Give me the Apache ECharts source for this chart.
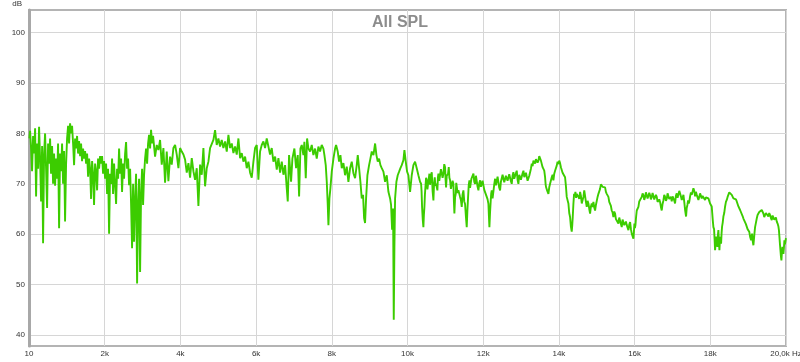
<!DOCTYPE html>
<html>
<head>
<meta charset="utf-8">
<script src="https://cdn.jsdelivr.net/npm/echarts@6/dist/echarts.min.js"></script>
<style>
html,body{margin:0;padding:0;background:#fff;}
#chart{width:800px;height:362px;}
</style>
</head>
<body>
<div id="chart"></div>
<script>
// ---- data: [frequency Hz, SPL dB] ----
const band1 = [[10,79],[29,80.5],[55,77],[81,72.5],[108,79.5],[134,76],[161,81],[187,67.5],[213,78],[240,73],
[266,81.3],[293,75],[319,66.5],[346,77.5],[372,58.2],[399,76],[425,80],[451,73],[478,65.2],[504,78],
[531,74],[557,79],[583,72],[610,77.5],[636,70],[663,76],[689,69.6],[716,75],[742,71],[768,78],
[795,61.2],[821,76],[848,72.5],[874,78],[900,70],[927,76.5],[953,62.5],[980,74],[1006,79],[1033,81.5],
[1059,78],[1085,82],[1112,80],[1138,81.5],[1165,78],[1191,73.7],[1218,79],[1244,77],[1270,79.5],[1297,76],
[1323,78.5],[1350,75.5],[1376,78],[1402,74.5],[1429,77],[1455,75],[1482,76.5],[1508,74],[1535,76],[1561,71.4],
[1587,75],[1614,73],[1640,67],[1667,74.5],[1693,72],[1719,65.8],[1746,74],[1772,72.5],[1799,68.7],[1825,75],
[1852,73],[1878,75.5],[1904,74],[1931,75.5],[1957,72],[1984,74.5],[2010,71],[2037,74],[2063,68],[2089,73],
[2116,60.1],[2142,72],[2169,70],[2195,75],[2221,68],[2248,74],[2274,70],[2301,66],[2327,73],[2354,71],
[2380,77],[2406,72],[2433,75],[2459,68.4],[2486,74],[2512,71],[2539,76],[2565,78.3],[2591,73],[2618,75],
[2644,69.7],[2671,73],[2697,66],[2723,57.2],[2750,70],[2776,58.5],[2803,67],[2829,72],[2856,50.2],[2882,66],
[2908,71],[2935,52.5],[2961,68],[2988,73],[3014,65.8],[3040,71.7],[3067,75],[3093,77],[3120,74],[3146,78],
[3172,79.7],[3199,77],[3225,80.7],[3252,78],[3278,79.5]];
const band2 = [[3331,75.4],[3375,77.7],[3419,76.7],[3463,78.7],[3507,73.8],[3551,77.1],[3595,70.2],[3639,76.4],[3683,70.5],[3727,75.4],
[3771,73.8],[3815,77.1],[3860,77.7],[3904,75.8],[3948,73.1],[3992,77.1],[4036,76.4],[4080,75.8],[4124,74.8],[4168,72.2],
[4212,74.1],[4256,71.2],[4300,75.1],[4344,72.5],[4388,70.8],[4432,73.1],[4476,65.6],[4520,73.8],[4564,71.8],[4608,77.1],
[4652,69.5],[4696,73.1],[4740,74.4],[4784,77.1],[4828,77.4],[4872,78.7],[4916,80.65],[4960,77.7],[5004,79.0],[5048,77.4],
[5092,78.7],[5136,77.1],[5181,78.4],[5225,76.4],[5269,79.7],[5313,77.1],[5357,78.0],[5401,76.1],[5445,77.4],[5489,75.8],
[5533,79.0],[5577,75.1],[5621,76.1],[5665,74.4],[5709,75.4],[5753,73.1],[5797,74.4],[5841,72.2],[5885,71.2],[5929,74.4],
[5973,77.1],[6017,77.7],[6061,70.8],[6105,76.4],[6149,77.7],[6193,78.4],[6237,77.1],[6281,79.0],[6325,77.4],[6369,75.8],
[6413,77.1],[6457,74.4],[6502,75.4],[6546,72.8],[6590,75.1],[6634,72.2],[6678,74.4],[6722,71.8]];
const band3 = [[6766,73.7],[6810,69.1],[6836,66.5],[6871,75.7],[6924,70.4],[6959,75.0],[7012,77.0],[7056,73.1],[7100,75.7],[7136,67.5],
[7171,77.0],[7206,77.7],[7250,75.7],[7276,78.35],[7312,71.1],[7347,79.0],[7382,77.0],[7426,76.4],[7470,77.7],[7514,75.7],
[7558,77.0],[7602,75.0],[7646,77.4],[7690,76.4],[7734,77.7],[7778,77.0],[7805,75.7],[7840,73.7],[7867,70.4],[7893,65.8],
[7911,61.8],[7937,67.1],[7963,69.1],[7999,72.4],[8043,75.0],[8087,77.0],[8113,77.7],[8157,76.4],[8192,74.4],[8228,75.7],
[8263,73.1],[8307,74.1],[8351,71.7],[8395,73.4],[8439,70.4],[8483,73.1],[8527,74.4],[8571,72.1],[8615,71.1],[8659,73.7],
[8686,75.7],[8721,73.1],[8756,70.4],[8791,67.1],[8826,67.8],[8853,63.2],[8879,62.2],[8906,67.1],[8941,71.7],[8985,73.7],
[9020,75.0],[9056,76.4],[9100,75.7],[9144,78.0],[9179,75.7],[9214,74.4],[9249,75.0],[9285,73.7],[9320,73.1],[9364,72.4],
[9408,70.4],[9452,71.7],[9496,68.4],[9540,67.1],[9566,65.8],[9593,60.9],[9619,65.1],[9637,43.0],[9654,57.2],[9672,67.1],
[9707,70.4],[9742,71.7],[9778,72.4],[9813,73.1],[9848,73.7],[9892,74.7],[9919,76.7],[9954,74.4],[9989,72.4],[10024,71.7],
[10068,68.4],[10112,71.7],[10156,73.7],[10200,74.4],[10244,73.1],[10288,71.7],[10332,70.4]];
const band4 = [[10359,70.0],[10372,68.5],[10385,65.4],[10402,63.0],[10420,61.4],[10433,63.8],[10447,65.4],[10460,67.8],[10473,69.3],[10491,71.2],
[10509,70.7],[10526,68.9],[10544,68.7],[10561,71.0],[10579,72.0],[10596,69.8],[10614,70.0],[10627,71.9],[10641,72.3],[10663,68.6],
[10685,66.7],[10702,70.1],[10720,71.3],[10737,69.6],[10755,70.0],[10772,70.2],[10790,68.7],[10803,71.2],[10817,72.0],[10839,70.6],
[10861,70.7],[10883,72.9],[10905,72.6],[10927,71.2],[10949,72.0],[10971,73.9],[10993,73.3],[11006,70.8],[11019,69.3],[11037,71.6],
[11055,71.3],[11072,72.0],[11090,73.3],[11107,71.2],[11125,70.7],[11147,69.0],[11169,68.7],[11191,70.6],[11213,70.0],[11226,66.5],
[11239,64.1],[11257,67.3],[11275,68.0],[11288,70.2],[11301,70.0],[11323,68.2],[11345,68.7],[11367,68.6],[11389,67.4],[11411,66.8],
[11433,65.4],[11455,67.9],[11477,68.7],[11499,66.5],[11521,66.0],[11543,63.5],[11565,61.4],[11583,64.8],[11601,67.4],[11618,69.8],
[11636,70.7],[11653,69.2],[11671,69.3],[11688,71.0],[11706,71.3],[11724,71.0],[11742,72.0],[11764,70.4],[11786,70.0],[11808,71.6],
[11830,71.3],[11852,69.4],[11874,68.7],[11896,70.1],[11918,70.7],[11940,69.4],[11962,69.3],[11984,70.6],[12006,70.3],[12028,68.8],
[12050,68.7],[12072,68.5],[12094,67.4],[12116,66.9],[12138,66.0],[12151,63.6],[12164,61.4],[12181,64.3],[12199,66.7],[12212,68.1],
[12226,68.7],[12248,67.1],[12270,67.4],[12292,69.9],[12314,71.0],[12336,69.7],[12358,70.0],[12380,71.4],[12402,71.3],[12424,69.2],
[12446,68.7],[12468,70.4],[12490,70.7],[12512,71.8],[12534,72.0],[12556,70.3],[12578,70.0],[12600,71.6],[12622,71.7],[12644,70.6],
[12666,70.7],[12688,71.9],[12710,72.0],[12732,70.5],[12754,70.0],[12776,71.6],[12798,72.3],[12820,71.0],[12842,70.7],[12864,72.1],
[12886,72.6],[12908,70.8],[12930,70.0],[12952,71.8],[12975,72.0],[12997,70.8],[13019,70.7],[13041,72.1],[13063,72.6],[13085,71.3],
[13107,71.0],[13129,72.2],[13151,72.0],[13173,70.6],[13195,70.3],[13217,71.6],[13239,71.3],[13261,73.0],[13283,74.0],[13305,73.5],
[13327,74.6],[13349,74.8],[13371,74.0],[13393,74.9],[13415,75.0],[13437,74.2],[13459,74.6],[13481,75.5],[13503,75.6],[13525,74.6],
[13547,74.3],[13569,73.3],[13591,73.3],[13613,72.6],[13635,71.3],[13649,69.9],[13662,69.3],[13675,69.4],[13688,68.7],[13706,68.6],
[13723,68.0],[13745,69.3]];
const band5 = [[13767,70.0],[13789,70.2],[13811,71.3],[13833,71.8],[13855,70.7],[13877,72.0],[13899,72.6],[13921,72.8],[13943,73.6],[13965,74.4],
[13987,73.9],[14009,74.6],[14031,74.1],[14053,73.3],[14075,73.3],[14097,72.2],[14119,72.3],[14141,71.9],[14163,71.3],[14185,69.6],
[14207,67.4],[14229,67.6],[14251,66.1],[14273,64.2],[14295,63.4],[14317,61.5],[14339,60.5],[14352,61.7],[14366,63.4],[14383,66.0],
[14401,68.0],[14418,67.5],[14436,68.4],[14454,67.2],[14472,68.0],[14494,68.2],[14516,67.4],[14538,67.0],[14560,68.4],[14582,67.6],
[14604,66.1],[14626,66.3],[14648,67.4],[14670,68.7],[14692,68.4],[14714,66.4],[14736,65.4],[14758,66.6],[14780,66.1],[14802,65.0],
[14824,64.1],[14846,65.5],[14868,66.1],[14890,65.4],[14912,66.4],[14934,65.3],[14956,64.7],[14978,65.8],[15000,66.1],[15022,67.4],
[15044,68.0],[15066,68.2],[15088,69.0],[15110,69.9],[15132,70.0],[15154,69.4],[15176,69.7],[15198,69.2],[15220,69.3],[15242,68.4],
[15264,68.0],[15286,67.9],[15308,67.4],[15330,66.4],[15352,66.1],[15374,65.6],[15396,64.7],[15418,64.3],[15440,63.4],[15462,64.5],
[15484,64.1],[15506,63.0],[15528,62.8],[15550,63.1],[15572,62.1],[15594,63.3],[15616,63.4],[15638,62.0],[15660,61.4],[15682,62.9],
[15705,62.8],[15727,61.8],[15749,62.1],[15771,62.5],[15793,61.8],[15815,61.7],[15837,60.8],[15859,61.9],[15881,62.4],[15903,61.0],
[15925,60.1],[15947,60.4],[15969,59.1],[15982,60.5],[15995,62.1],[16008,61.2],[16022,61.8],[16039,63.4],[16057,64.7],[16079,64.6],
[16101,65.4],[16123,66.5],[16145,66.7],[16167,66.8],[16189,67.4],[16211,68.1],[16233,67.7],[16255,66.8],[16277,67.4],[16299,68.3],
[16321,68.0],[16343,67.1],[16365,67.0],[16387,68.2],[16409,67.7],[16431,66.9],[16453,67.4],[16475,68.2],[16497,68.0],[16519,66.9],
[16541,66.7],[16563,67.8],[16585,67.4],[16607,66.4],[16629,66.1],[16651,66.9],[16673,66.4],[16695,65.4],[16717,64.7],[16739,66.0],
[16761,66.7],[16783,67.8],[16805,67.4],[16827,66.6],[16849,67.0],[16871,68.1],[16893,68.0],[16915,67.0],[16938,66.7],[16960,67.4]];
const band6 = [[16981,66.5],[17003,67.5],[17025,67.8],[17047,66.7],[17069,66.1],[17091,67.6],[17114,68.1],[17136,67.2],[17158,67.1],[17180,68.6],
[17202,68.5],[17224,67.5],[17246,66.8],[17268,67.2],[17290,67.8],[17312,66.4],[17334,64.8],[17347,64.6],[17360,63.5],[17377,65.2],
[17395,65.8],[17413,66.7],[17431,66.1],[17448,66.6],[17466,67.5],[17488,68.3],[17510,67.8],[17532,68.0],[17554,69.1],[17576,68.6],
[17598,67.5],[17620,68.4],[17642,67.8],[17664,67.6],[17686,66.8],[17708,67.4],[17730,68.1],[17752,67.9],[17774,67.1],[17796,67.6],
[17818,67.8],[17840,67.7],[17862,66.8],[17884,67.3],[17906,67.5],[17928,67.6],[17950,67.1],[17972,66.9],[17994,66.1],[18016,66.0],
[18038,65.5],[18051,64.2],[18065,62.8],[18082,61.4],[18100,61.0],[18113,59.0],[18126,56.8],[18140,58.2],[18153,59.5],[18170,58.6],
[18188,57.5],[18201,59.8],[18214,60.8],[18228,58.4],[18241,56.8],[18250,58.2],[18258,59.5],[18272,58.9],[18285,58.1],[18298,60.2],
[18311,61.5],[18328,62.3],[18346,63.5],[18368,64.2],[18391,65.5],[18413,66.4],[18435,66.8],[18457,67.4],[18479,67.5],[18501,68.3],
[18523,68.1],[18545,68.3],[18567,67.8],[18589,67.7],[18611,67.1],[18633,67.4],[18655,66.8],[18677,66.9],[18699,66.5],[18721,66.2],
[18743,65.5],[18765,65.4],[18787,64.8],[18809,64.8],[18831,64.5],[18853,63.6],[18875,63.1],[18897,63.3],[18919,62.8],[18941,62.0],
[18963,61.8],[18985,61.0],[19007,60.8],[19029,60.5],[19051,59.5],[19065,59.8],[19078,58.8],[19091,59.6],[19104,60.1],[19121,58.6],
[19139,57.8],[19152,58.9],[19166,60.1],[19183,61.4],[19201,62.1],[19214,62.3],[19227,63.1],[19249,63.8],[19271,63.5],[19293,64.4],
[19315,64.1],[19337,64.3],[19359,64.8],[19381,64.9],[19403,64.1],[19425,63.4],[19447,63.5],[19469,64.2],[19491,64.5],[19513,64.0],
[19535,63.5],[19557,64.2],[19580,63.8],[19602,63.2],[19624,62.8],[19646,63.7],[19668,63.5],[19690,62.9],[19712,63.1],[19734,63.3],
[19756,62.5],[19778,62.1],[19800,61.5],[19813,60.8],[19826,59.5],[19840,58.0],[19853,56.8],[19866,55.6],[19879,54.8],[19892,56.4],
[19905,57.5],[19918,57.2],[19932,56.1],[19945,57.3],[19958,58.8],[19971,58.0],[19984,58.5],[19998,59.2]];

const xTickValues = [0,2000,4000,6000,8000,10000,12000,14000,16000,18000,20000];
const xTickLabels = ['10','2k','4k','6k','8k','10k','12k','14k','16k','18k','20,0k Hz'];
const yTickValues = [40,50,60,70,80,90,100];
const titleText = 'All SPL';
const yUnit = 'dB';

const splData = band1.concat(band2, band3, band4, band5, band6);

const chart = echarts.init(document.getElementById('chart'), null, {renderer:'canvas'});
const font = 'Liberation Sans, Arial, sans-serif';
chart.setOption({
  animation: false,
  backgroundColor: '#ffffff',
  title: {
    text: titleText, left: 'center', top: 10,
    textStyle: {fontFamily: font, fontSize: 16, fontWeight: 'bold', color: '#8c8c8c'}
  },
  grid: {left: 29, right: 14, top: 10, bottom: 16, show: true, borderColor: '#b4b4b4', borderWidth: 2,
         backgroundColor: 'transparent', containLabel: false, outerBoundsMode: 'none'},
  xAxis: {
    type: 'value', min: 0, max: 20000, interval: 2000,
    axisLine: {show: false}, axisTick: {show: false},
    splitLine: {show: true, lineStyle: {color: '#d6d6d6', width: 1}},
    axisLabel: {
      show: true, margin: 4, fontFamily: font, fontSize: 8, color: '#333',
      showMinLabel: true, showMaxLabel: true, hideOverlap: false,
      formatter: function (v) { const i = xTickValues.indexOf(v); return i >= 0 ? xTickLabels[i] : ''; }
    }
  },
  yAxis: {
    type: 'value', min: 37.8, max: 104.5, offset: 1,
    name: yUnit, nameLocation: 'end', nameGap: 2,
    nameTextStyle: {fontFamily: font, fontSize: 8, color: '#333', align: 'right', padding: [0, 7, 0, 0]},
    axisLine: {show: true, lineStyle: {color: '#a8a8a8', width: 3}},
    axisTick: {show: false, customValues: yTickValues},
    splitLine: {show: true, lineStyle: {color: '#d6d6d6', width: 1}},
    axisLabel: {show: true, margin: 3, fontFamily: font, fontSize: 8, color: '#333', customValues: yTickValues}
  },
  series: [{
    type: 'line', data: splData, showSymbol: false, symbol: 'none',
    lineStyle: {color: '#3ccc00', width: 1.9}, clip: true
  }]
});
</script>
</body>
</html>
